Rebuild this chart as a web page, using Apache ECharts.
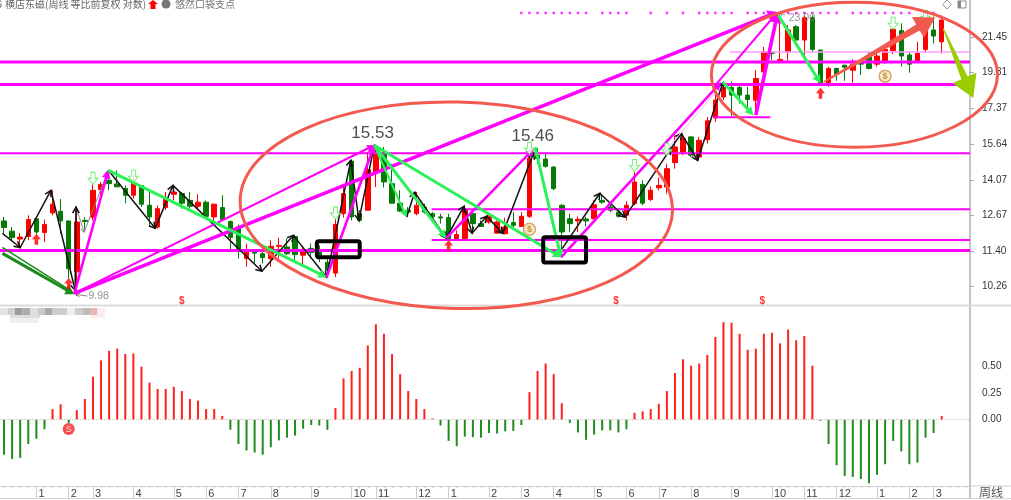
<!DOCTYPE html>
<html>
<head>
<meta charset="utf-8">
<title>横店东磁 周线</title>
<style>
  html, body { margin: 0; padding: 0; background: #fff; }
  #chart { width: 1011px; height: 500px; }
</style>
<script src="https://cdn.jsdelivr.net/npm/echarts@6/dist/echarts.min.js"></script>
</head>
<body>
<div id="chart"></div>
<script>
// K线 [open, close, low, high]
const candles = [
  [12.46,12.22,12.00,12.61],[12.09,11.86,11.77,12.24],[11.81,11.88,11.48,12.02],[11.90,12.51,11.77,12.67],[12.54,12.06,11.97,12.54],
  [12.04,12.33,11.71,12.51],[12.76,13.09,12.67,13.64],[12.82,12.46,12.00,13.29],[12.46,10.82,10.52,12.46],[10.72,12.42,9.98,13.02],
  [12.48,12.44,12.12,12.60],[12.60,13.64,12.48,13.88],[13.67,13.88,13.24,13.98],[14.05,13.91,13.64,14.47],[13.90,13.78,13.77,14.47],
  [13.71,13.44,13.13,13.84],[13.44,13.94,13.31,14.26],[13.83,13.09,12.98,13.84],[13.05,12.61,12.24,13.64],[12.24,12.92,12.18,13.05],
  [12.96,13.31,12.86,13.57],[13.48,13.57,13.24,13.84],[13.51,13.13,12.92,13.57],[13.24,13.01,12.92,13.57],[13.01,13.17,12.86,13.48],
  [13.17,12.63,12.61,13.24],[12.61,13.09,12.48,13.12],[12.96,12.51,12.48,13.44],[12.44,11.87,11.42,12.48],[12.24,11.48,11.15,12.33],
  [11.15,11.40,10.88,11.65],[11.37,11.33,10.99,11.37],[11.31,11.18,10.99,11.54],[11.15,11.56,10.88,11.77],[11.56,11.59,11.15,11.86],
  [11.54,11.31,11.26,11.83],[11.90,11.28,11.09,11.96],[11.26,11.40,10.93,11.56],[11.49,11.35,11.15,11.66],[11.42,11.22,11.03,11.59],
  [11.03,10.77,10.56,11.20],[10.68,12.33,10.55,12.55],[12.73,13.51,12.58,13.90],[14.87,12.61,12.48,14.93],[12.73,12.48,12.41,12.86],
  [12.86,14.49,12.86,15.27],[14.41,15.27,13.77,15.53],[15.27,13.98,13.75,15.50],[13.91,13.13,13.11,14.75],[13.13,12.83,12.79,13.64],
  [12.86,12.79,12.61,12.98],[12.73,13.05,12.67,13.57],[12.98,12.79,12.73,13.11],[12.73,12.61,12.48,12.79],[12.61,12.57,12.36,12.73],
  [12.58,11.82,11.77,12.73],[11.82,11.97,11.77,12.12],[11.82,12.86,11.79,13.05],[12.73,12.36,12.00,12.86],[12.36,12.26,12.24,12.48],
  [12.42,12.67,12.36,12.73],[12.02,12.42,12.00,12.48],[12.00,12.24,11.97,12.58],[12.40,12.30,12.24,12.79],[12.26,12.63,12.24,12.79],
  [12.63,14.99,12.57,15.05],[15.13,14.98,14.75,15.46],[14.96,14.64,14.58,15.27],[14.61,13.71,13.64,14.64],[13.05,12.06,11.20,13.09],
  [12.54,12.36,12.06,12.73],[12.46,12.52,12.06,12.63],[12.53,12.46,12.26,12.61],[12.54,13.07,12.51,13.24],[13.24,13.17,13.11,13.44],
  [12.98,12.86,12.79,13.11],[12.79,12.63,12.58,12.92],[12.67,13.05,12.48,13.21],[13.11,13.98,13.05,14.40],[13.88,13.13,13.05,14.05],
  [13.27,13.64,13.21,13.80],[13.74,13.84,13.64,14.17],[13.77,14.54,13.51,14.75],[14.80,15.50,14.54,16.05],[15.27,15.90,15.13,16.13],
  [15.97,15.13,15.05,16.00],[15.05,15.81,14.90,15.97],[15.84,16.75,15.66,16.94],[16.89,17.80,16.70,18.26],[17.97,18.48,17.80,18.80],
  [18.48,18.07,16.99,18.80],[18.48,18.07,17.63,18.61],[18.07,17.84,17.30,18.51],[17.80,18.98,17.30,19.45],[19.35,20.53,18.89,20.83],
  [20.50,20.44,20.04,20.53],[19.97,20.08,19.92,23.00],[20.53,21.90,19.92,22.22],[22.11,21.26,21.21,22.22],[21.26,22.71,20.04,22.87],
  [22.71,20.68,20.53,22.87],[20.64,18.74,18.61,20.68],[18.74,19.55,18.51,19.65],[19.55,19.22,18.85,19.59],[19.74,19.62,18.85,19.74],
  [19.45,19.80,18.74,20.08],[19.89,19.80,19.17,19.89],[20.24,19.55,19.49,20.53],[19.80,20.28,19.65,20.44],[19.89,20.68,19.83,20.74],
  [20.60,21.95,20.40,22.00],[21.86,20.28,19.65,22.33],[20.34,19.80,19.30,20.53],[19.97,20.44,19.92,21.15],[20.68,22.15,20.53,22.65],
  [21.90,21.51,21.05,22.79],[21.15,22.55,20.43,22.87]
];
// 副图柱子
const macd = [
  -0.33,-0.37,-0.36,-0.23,-0.18,-0.09,0.10,0.145,-0.03,0.09,0.195,0.405,0.56,0.65,0.67,0.62,0.625,0.50,0.35,0.29,
  0.29,0.31,0.27,0.195,0.18,0.10,0.10,0.035,-0.095,-0.23,-0.29,-0.31,-0.33,-0.26,-0.195,-0.17,-0.15,-0.085,-0.05,-0.055,
  -0.095,0.11,0.39,0.46,0.49,0.70,0.90,0.81,0.62,0.43,0.27,0.195,0.10,0.012,-0.055,-0.20,-0.25,-0.16,-0.165,-0.17,
  -0.125,-0.13,-0.11,-0.105,-0.05,0.26,0.46,0.53,0.43,0.155,-0.03,-0.12,-0.19,-0.14,-0.10,-0.10,-0.12,-0.09,0.065,0.08,
  0.10,0.15,0.27,0.44,0.57,0.51,0.53,0.61,0.78,0.92,0.915,0.81,0.66,0.67,0.81,0.82,0.72,0.85,0.75,0.79,
  0.51,-0.01,-0.23,-0.43,-0.53,-0.54,-0.56,-0.60,-0.52,-0.42,-0.20,-0.30,-0.42,-0.405,-0.17,-0.125,0.035
];
const priceTicks = [21.45, 19.31, 17.37, 15.64, 14.07, 12.67, 11.40, 10.26];
const macdTicks = [0, 0.25, 0.5];
// 月份刻度
const monthWeeks = [4,8,11,16,21,25,29,33,38,43,46,51,55,60,64,68,73,77,81,85,90,95,99,103,108,112,115];
const monthLabels = ['1','2','3','4','5','6','7','8','9','10','11','12','1','2','3','4','5','6','7','8','9','10','11','12','1','2','3'];
// 多留三根空位
const weeks = candles.map((c, i) => String(i)).concat(['', ' ', '  ']);

// 水平线 [week0, week1, price]
const lineThick = [[-1,119.5,19.92],[-1,119.5,18.65],[-1,119.5,11.42]];
const lineMid = [[-1,119.5,15.22],[52.9,119.5,12.90],[52.9,119.5,11.78],[87.8,94.8,16.93]];
const linePale = [[89.8,119.5,20.53]];

// 箭头 [week0, price0, week1, price1]
const magentaBig = [[8.7,10.06,95.7,23.1],[93,17.03,95.7,23.03]];
const magentaMid = [[8.7,10.06,12.9,14.47],[39.9,10.55,45.8,15.58],[54.7,11.84,65.6,15.44],[68.9,11.19,88.7,18.78]];
const magentaThin = [[8.7,10.06,45.8,15.58],[88,18.61,95.6,23.03]];
const magentaPale = [[81.9,15.35,88,18.22]];
const greenMain = [[12.9,14.47,39.9,10.55],[45.8,15.58,54.7,11.84],[45.8,15.58,68.9,11.19],[65.7,15.49,68.9,11.19],[88.9,18.78,92.7,17.03],[95.8,22.87,101,18.72]];
const greenThin = [[45.8,15.58,49.8,12.6]];
const darkGreenBig = [[-0.2,11.32,8.7,10.03]];
const darkGreenThin = [[-0.2,11.52,8.4,10.12]];
const grayThin = [[8.9,12.98,9.9,12.05],[9.9,12.05,12.9,14.47],[10.3,9.98,8.9,10.03],[96.6,22.9,95.9,23.05]];
// 黑色折线 [week, price]
const blackPaths = [
  [[-0.2,12.01],[2,11.52],[5.8,13.64],[8.8,10.15],[8.9,12.98]],
  [[12.9,14.47],[18.7,12.19],[20.9,13.84],[31.9,10.74],[35.8,11.94],[39.9,10.55],[42.9,14.90],[43.9,12.48],[45.8,15.58]],
  [[49.8,12.60],[50.8,13.56],[54.7,11.84],[56.9,13.01],[57.9,12.01],[59.7,12.63],[61.7,12.01],[65.5,15.22]],
  [[68.9,11.42],[73.7,13.52],[76.8,12.60],[82.5,15.44],[83.8,16.13],[85.8,14.90],[88.9,18.72]]
];
const blackArrows = blackPaths.flatMap(p => p.slice(1).map((pt, i) => [p[i][0], p[i][1], pt[0], pt[1]]));
const wedgeRed = [[101.4,18.78,115.2,22.73]];
const wedgeOlive = [[116.2,21.99,119.9,17.91]];

// 框和椭圆 [weekLeft, weekRight, priceTop, priceBottom]
const boxes = [[38.7,44,11.73,11.19],[66.7,72,11.87,11.02]];
const ellipseWide = [[29.2,82.7,17.7,9.62]];
const ellipseTop = [[87.5,122.9,23.78,15.49]];

// 信号点
const dotWeeks = [64,65,66,67,68,69,70,71,72,74,75,76,77,80,82,84,86,87,88,89,90,92,93,94,95,96,97,98,99,100,101,102,103,105,106,107,108,109,110,111,112,114,115];
const dotPrice = 23.03;
const sellMarks = [[11,14.13],[16,14.22],[41,12.75],[65,15.44],[78,14.68],[82,15.40],[110,22.34],[114,22.8]];
const buyMarks = [[4,11.80],[8,10.36],[55,11.59],[101,18.17]];
const bagMarks = [[65,12.16],[109,19.11]];
const dollarWeeks = [22,75.7,93.8];
const dollarPrice = 9.82;
const peakLabels = [[45.6,16.13,'15.53'],[65.4,16.0,'15.46']];
const smallLabels = [[11.7,9.98,'9.98'],[98.7,22.68,'23.00']];
const badge = [[8,-0.088]];

const RED = '#ff0000', GREEN = '#067a06', MAGENTA = '#ff00ff';
const ARROW_UP = 'path://M5 0L10 6L7 6L7 12L3 12L3 6L0 6Z';
const ARROW_DOWN = 'path://M3 0L7 0L7 6L10 6L5 12L0 6L3 6Z';

// 线段带箭头，head=0 不画箭头
function arrowSeries(data, color, width, head, open, z) {
  return {
    type: 'custom', xAxisIndex: 1, yAxisIndex: 0, z: z || 5, silent: true, clip: false,
    encode: { x: [0, 2], y: [1, 3] },
    data: data,
    renderItem: function (params, api) {
      const a = api.coord([api.value(0), api.value(1)]);
      const b = api.coord([api.value(2), api.value(3)]);
      const dx = b[0] - a[0], dy = b[1] - a[1];
      const len = Math.sqrt(dx * dx + dy * dy) || 1;
      const ux = dx / len, uy = dy / len;
      const style = { stroke: color, lineWidth: width, fill: null };
      const endX = head && !open ? b[0] - ux * head * 0.8 : b[0];
      const endY = head && !open ? b[1] - uy * head * 0.8 : b[1];
      const children = [{ type: 'line', shape: { x1: a[0], y1: a[1], x2: endX, y2: endY }, style: style }];
      if (head) {
        const w = head * 0.55;
        const l = [b[0] - ux * head - uy * w, b[1] - uy * head + ux * w];
        const r = [b[0] - ux * head + uy * w, b[1] - uy * head - ux * w];
        if (open) {
          children.push({ type: 'polyline', shape: { points: [l, b, r] }, style: { stroke: color, lineWidth: width, fill: null } });
        } else {
          children.push({ type: 'polygon', shape: { points: [l, b, r] }, style: { fill: color } });
        }
      }
      return { type: 'group', children: children };
    }
  };
}

// 水平线转成无箭头线段
function flat(rows) {
  return rows.map(r => [r[0], r[2], r[1], r[2]]);
}

// 越来越粗的大箭头
function wedgeSeries(data, color, tail, neck, head, wing) {
  return {
    type: 'custom', xAxisIndex: 1, yAxisIndex: 0, z: 7, silent: true, clip: false,
    encode: { x: [0, 2], y: [1, 3] },
    data: data,
    renderItem: function (params, api) {
      const a = api.coord([api.value(0), api.value(1)]);
      const b = api.coord([api.value(2), api.value(3)]);
      const dx = b[0] - a[0], dy = b[1] - a[1];
      const len = Math.sqrt(dx * dx + dy * dy);
      const ux = dx / len, uy = dy / len, nx = -uy, ny = ux;
      const mx = b[0] - ux * head, my = b[1] - uy * head;
      return {
        type: 'polygon',
        shape: { points: [
          [a[0] + nx * tail, a[1] + ny * tail],
          [mx + nx * neck, my + ny * neck],
          [mx + nx * wing, my + ny * wing],
          b,
          [mx - nx * wing, my - ny * wing],
          [mx - nx * neck, my - ny * neck],
          [a[0] - nx * tail, a[1] - ny * tail]
        ] },
        style: { fill: color }
      };
    }
  };
}

function boxSeries(data, kind, color, width, tilt) {
  return {
    type: 'custom', xAxisIndex: 1, yAxisIndex: 0, z: 8, silent: true, clip: false,
    encode: { x: [0, 1], y: [2, 3] },
    data: data,
    renderItem: function (params, api) {
      const a = api.coord([api.value(0), api.value(2)]);
      const b = api.coord([api.value(1), api.value(3)]);
      const style = { stroke: color, lineWidth: width, fill: null };
      if (kind === 'rect') {
        return { type: 'rect', shape: { x: a[0], y: a[1], width: b[0] - a[0], height: b[1] - a[1], r: 2 }, style: style };
      }
      const cx = (a[0] + b[0]) / 2, cy = (a[1] + b[1]) / 2;
      return {
        type: 'ellipse', shape: { cx: cx, cy: cy, rx: (b[0] - a[0]) / 2, ry: (b[1] - a[1]) / 2 },
        originX: cx, originY: cy, rotation: tilt || 0, style: style
      };
    }
  };
}

function labelSeries(data, size, color, weight) {
  return {
    type: 'scatter', xAxisIndex: 1, yAxisIndex: 0, z: 9, silent: true, symbolSize: 1, itemStyle: { color: 'transparent' },
    data: data.map(d => ({ value: [d[0], d[1]], name: d[2] })),
    label: { show: true, position: 'inside', formatter: '{b}', fontSize: size, color: color, fontFamily: 'Liberation Sans', fontWeight: weight || 'normal' }
  };
}

const mosaicTop = ['#e4e4e4','#cfcfcf','#9c9c9c','#adadad','#dedede','#c9c9c9','#a8a8a8','#cccccc','#cdcdcd','#eeeeee','#cccccc','#bcbcbc','#e8b8b8','#f8eeee'];
const mosaicRects = mosaicTop.map((c, i) => ({
  type: 'rect', shape: { x: i * 7.5, y: 308, width: 7.5, height: 7 }, style: { fill: c }
})).concat([
  { type: 'rect', shape: { x: 10, y: 315, width: 30, height: 3 }, style: { fill: '#dddddd' } },
  { type: 'rect', shape: { x: 10, y: 318, width: 29, height: 5 }, style: { fill: '#efefef' } },
  { type: 'rect', shape: { x: 91, y: 315, width: 14, height: 3 }, style: { fill: '#fbeeee' } }
]);

const chart = echarts.init(document.getElementById('chart'), null, { renderer: 'canvas' });
chart.setOption({
  animation: false,
  backgroundColor: '#fff',
  textStyle: { fontFamily: 'Liberation Sans' },
  grid: [
    { left: -2.38, right: 41, top: 0, height: 305 },
    { left: -2.38, right: 41, top: 306, height: 180 }
  ],
  xAxis: [
    { type: 'category', gridIndex: 0, data: weeks, show: false },
    { type: 'value', gridIndex: 0, min: -0.5, max: 119.5, show: false },
    {
      type: 'category', gridIndex: 1, data: weeks, position: 'bottom',
      axisLine: { onZero: false, lineStyle: { color: '#cfcfcf', width: 1 } },
      axisTick: { show: true, interval: 0, length: 2, alignWithLabel: true, lineStyle: { color: '#cccccc' } },
      axisLabel: { show: false }
    },
    {
      type: 'category', gridIndex: 1, data: weeks, position: 'bottom',
      axisLine: { show: false, onZero: false },
      axisTick: { show: true, length: 12, alignWithLabel: true, lineStyle: { color: '#cccccc' },
        interval: function (i) { return monthWeeks.indexOf(i) >= 0; } },
      axisLabel: {
        show: true, margin: 2, align: 'left', padding: [0, 0, 0, 2], fontSize: 11, color: '#444',
        interval: function (i) { return monthWeeks.indexOf(i) >= 0; },
        formatter: function (v, i) { return monthLabels[monthWeeks.indexOf(i)]; }
      }
    }
  ],
  yAxis: [
    {
      type: 'log', logBase: 10, gridIndex: 0, position: 'right', min: 9.72, max: 23.93,
      splitLine: { show: false },
      axisLine: { show: true, onZero: false, lineStyle: { color: '#c4c4c4', width: 2 } },
      axisTick: { show: true, length: 4, customValues: priceTicks, lineStyle: { color: '#aaaaaa' } },
      axisLabel: { show: true, customValues: priceTicks, margin: 12, fontSize: 10, color: '#333',
        formatter: function (v) { return Number(v).toFixed(2); } }
    },
    {
      type: 'value', gridIndex: 1, position: 'right', min: -0.6255, max: 1.0726,
      splitLine: { show: false },
      axisLine: { show: true, onZero: false, lineStyle: { color: '#c4c4c4', width: 2 } },
      axisTick: { show: false },
      axisLabel: { show: true, customValues: macdTicks, margin: 12, fontSize: 10, color: '#333',
        formatter: function (v) { return Number(v).toFixed(2); } }
    }
  ],
  series: [
    {
      type: 'candlestick', xAxisIndex: 0, yAxisIndex: 0, z: 2, barWidth: 5, silent: true,
      itemStyle: { color: RED, color0: GREEN, borderColor: RED, borderColor0: GREEN, borderWidth: 1 },
      data: candles
    },
    {
      type: 'bar', xAxisIndex: 2, yAxisIndex: 1, barWidth: 2, silent: true,
      itemStyle: { color: function (p) { return p.value >= 0 ? '#ff1f1f' : '#1f8c1f'; } },
      data: macd,
      markLine: {
        silent: true, symbol: 'none', label: { show: false },
        lineStyle: { color: '#c8c8c8', type: 'dotted', width: 1 },
        data: [{ yAxis: 0 }]
      }
    },
    arrowSeries(flat(lineThick), MAGENTA, 3, 0, false, 3),
    arrowSeries(flat(lineMid), MAGENTA, 2, 0, false, 3),
    arrowSeries(flat(linePale), '#ff9cff', 1.5, 0, false, 3),
    arrowSeries(grayThin, '#8a8a8a', 1, 4, true),
    arrowSeries(blackArrows, '#111111', 1.5, 6, true),
    arrowSeries(magentaPale, '#ffb4ff', 1, 0, false),
    arrowSeries(magentaThin, MAGENTA, 2, 7, false),
    arrowSeries(magentaMid, MAGENTA, 2.6, 8, false),
    arrowSeries(magentaBig, MAGENTA, 3.6, 10, false),
    arrowSeries(greenMain, '#2cf05a', 3, 8, false),
    arrowSeries(greenThin, '#2cf05a', 2, 7, false),
    arrowSeries(darkGreenThin, '#1d8a1d', 1.5, 0, false),
    arrowSeries(darkGreenBig, '#1d8a1d', 3, 9, false),
    wedgeSeries(wedgeRed, '#f2594f', 0.8, 3.4, 20, 12),
    wedgeSeries(wedgeOlive, '#9acd00', 0.6, 3.4, 22, 13),
    boxSeries(boxes, 'rect', '#000000', 4),
    boxSeries(ellipseWide, 'ellipse', '#f2594f', 3, -0.025),
    boxSeries(ellipseTop, 'ellipse', '#f2594f', 3, 0),
    {
      type: 'scatter', xAxisIndex: 1, yAxisIndex: 0, z: 4, silent: true, symbol: 'rect', symbolSize: 2.5,
      itemStyle: { color: MAGENTA },
      data: dotWeeks.map(w => [w, dotPrice])
    },
    {
      type: 'scatter', xAxisIndex: 1, yAxisIndex: 0, z: 6, silent: true, symbol: ARROW_DOWN, symbolSize: [10, 12],
      itemStyle: { color: '#ffffff', borderColor: '#55ee55', borderWidth: 1 },
      data: sellMarks
    },
    {
      type: 'scatter', xAxisIndex: 1, yAxisIndex: 0, z: 6, silent: true, symbol: ARROW_UP, symbolSize: [9, 11],
      itemStyle: { color: RED },
      data: buyMarks
    },
    {
      type: 'scatter', xAxisIndex: 1, yAxisIndex: 0, z: 6, silent: true, symbol: 'circle', symbolSize: 12,
      itemStyle: { color: '#f7e3b8', borderColor: '#c9974a', borderWidth: 1.5 },
      label: { show: true, position: 'inside', formatter: '$', fontSize: 9, fontWeight: 'bold', color: '#b07818' },
      data: bagMarks
    },
    {
      type: 'scatter', xAxisIndex: 1, yAxisIndex: 0, z: 6, silent: true, symbolSize: 1, itemStyle: { color: 'transparent' },
      label: { show: true, position: 'inside', formatter: '$', fontSize: 10, fontWeight: 'bold', color: RED },
      data: dollarWeeks.map(w => [w, dollarPrice])
    },
    labelSeries(peakLabels, 17, '#222222'),
    labelSeries(smallLabels, 10.5, '#777777'),
    {
      type: 'scatter', xAxisIndex: 2, yAxisIndex: 1, z: 6, silent: true, symbol: 'circle', symbolSize: 12,
      itemStyle: { color: '#f02020' },
      label: { show: true, position: 'inside', formatter: 'S', fontSize: 9, color: '#ffffff' },
      data: badge
    }
  ],
  // 上下的外框、标题、打码条
  graphic: [
    { type: 'line', z: 1, shape: { x1: 0, y1: 305.5, x2: 1011, y2: 305.5 }, style: { stroke: '#dcdcdc', lineWidth: 2 } },
    { type: 'line', z: 1, shape: { x1: 0, y1: 498.5, x2: 1011, y2: 498.5 }, style: { stroke: '#d4d4d4', lineWidth: 1 } },
    { type: 'line', z: 1, shape: { x1: 970, y1: 486, x2: 970, y2: 499 }, style: { stroke: '#c4c4c4', lineWidth: 2 } },
    { type: 'line', z: 1, shape: { x1: 970, y1: 486, x2: 1011, y2: 486 }, style: { stroke: '#cfcfcf', lineWidth: 1 } },
    { type: 'text', x: 979, y: 486.5, style: { text: '周线', fontSize: 12, fill: '#555', fontFamily: 'Noto Sans CJK SC' } },
    { type: 'text', x: -4, y: -1, style: { text: '6', fontSize: 11, fill: '#666', fontFamily: 'Liberation Sans' } },
    { type: 'text', x: 5, y: -1, style: { text: '横店东磁(周线 等比前复权 对数)', fontSize: 10, fill: '#666', fontFamily: 'Noto Sans CJK SC' } },
    { type: 'polygon', shape: { points: [[153,0],[158,4],[155.5,4],[155.5,9],[150.5,9],[150.5,4],[148,4]] }, style: { fill: RED } },
    { type: 'circle', shape: { cx: 166, cy: 4, r: 4.5 }, style: { fill: '#777' } },
    { type: 'text', x: 175, y: -1, style: { text: '悠然口袋支点', fontSize: 10, fill: '#777', fontFamily: 'Noto Sans CJK SC' } },
    { type: 'polygon', shape: { points: [[947,0],[951.5,4.5],[947,9],[942.5,4.5]] }, style: { stroke: '#999', fill: '#fff', lineWidth: 1 } },
    { type: 'rect', shape: { x: 958, y: 1, width: 8, height: 7 }, style: { stroke: '#888', fill: '#fff', lineWidth: 1 } },
    { type: 'rect', shape: { x: 958, y: 1, width: 3, height: 7 }, style: { fill: '#888' } }
  ].concat(mosaicRects)
});
</script>
</body>
</html>
